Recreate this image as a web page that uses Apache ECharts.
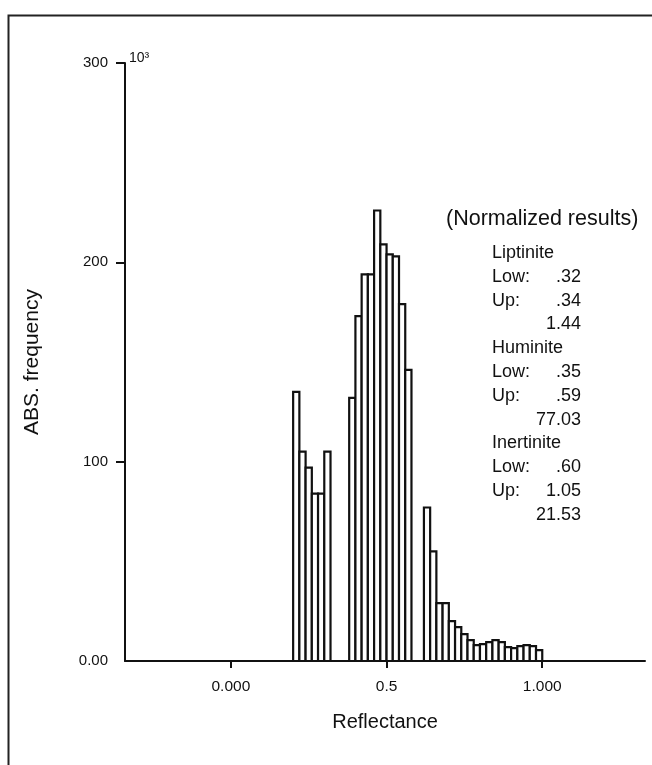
<!DOCTYPE html>
<html>
<head>
<meta charset="utf-8">
<script src="https://cdn.jsdelivr.net/npm/echarts@6/dist/echarts.min.js"></script>
<style>
  html, body { margin: 0; padding: 0; background: #fff; }
  #main { width: 652px; height: 765px; }
</style>
</head>
<body>
<div id="main"></div>
<script>
// reflectance histogram, counts in 10^3
var binWidth = 0.02;
var binLeft = [0.20, 0.22, 0.24, 0.26, 0.28, 0.30,
    0.38, 0.40, 0.42, 0.44, 0.46, 0.48, 0.50, 0.52, 0.54, 0.56,
    0.62, 0.64, 0.66, 0.68, 0.70, 0.72, 0.74, 0.76, 0.78, 0.80,
    0.82, 0.84, 0.86, 0.88, 0.90, 0.92, 0.94, 0.96, 0.98];
var counts = [135, 105, 97, 84, 84, 105,
    132, 173, 194, 194, 226, 209, 204, 203, 179, 146,
    77, 55, 29, 29, 20, 17, 13.5, 10.5, 8, 8.5,
    9.5, 10.5, 9.5, 7, 6.5, 7.5, 8, 7.5, 5.5];

var xTickValues = [0, 0.5, 1];
var xTickLabels = ['0.000', '0.5', '1.000'];
var yTickValues = [0, 100, 200, 300];
var yTickLabels = ['0.00', '100', '200', '300'];

var macerals = ['Liptinite', 'Huminite', 'Inertinite'];
var lowLimits = ['.32', '.35', '.60'];
var upLimits = ['.34', '.59', '1.05'];
var percents = ['1.44', '77.03', '21.53'];

var font = '"Liberation Sans", Arial, sans-serif';
var ink = '#111';

var data = [];
for (var i = 0; i < binLeft.length; i++) {
    data.push([binLeft[i], counts[i]]);
}

// frame, unit and the text block on the right
var graphics = [
    {type: 'rect', left: 6, top: 13, shape: {width: 700, height: 800},
        style: {fill: 'none', stroke: '#222', lineWidth: 2}, silent: true},
    {type: 'text', left: 129, top: 51,
        style: {text: '10³', font: '14px ' + font, fill: ink}},
    {type: 'text', x: 446, y: 219,
        style: {text: '(Normalized results)', font: '21.5px ' + font, fill: ink, verticalAlign: 'middle'}}
];
var rowY = 253;
var rowGap = 23.8;
for (var k = 0; k < macerals.length; k++) {
    var rows = [
        [macerals[k], ''],
        ['Low:', lowLimits[k]],
        ['Up:', upLimits[k]],
        ['', percents[k]]
    ];
    for (var r = 0; r < rows.length; r++) {
        if (rows[r][0]) {
            graphics.push({type: 'text', x: 492, y: rowY,
                style: {text: rows[r][0], font: '18px ' + font, fill: ink, verticalAlign: 'middle'}});
        }
        if (rows[r][1]) {
            graphics.push({type: 'text', x: 581, y: rowY,
                style: {text: rows[r][1], font: '18px ' + font, fill: ink, align: 'right', verticalAlign: 'middle'}});
        }
        rowY += rowGap;
    }
}

var myChart = echarts.init(document.getElementById('main'));
var option = {
    backgroundColor: '#fff',
    animation: false,
    grid: {left: 125, right: 7, top: 63, bottom: 104},
    xAxis: {
        type: 'value',
        min: -0.34,
        max: 1.33,
        name: 'Reflectance',
        nameLocation: 'middle',
        nameGap: 51,
        nameTextStyle: {fontFamily: 'Liberation Sans', fontSize: 20, color: ink},
        axisLine: {show: true, onZero: false, lineStyle: {color: ink, width: 2}},
        axisTick: {show: true, customValues: xTickValues, length: 7, lineStyle: {color: ink, width: 2}},
        axisLabel: {
            customValues: xTickValues,
            margin: 18,
            fontFamily: 'Liberation Sans', fontSize: 15.5, color: ink,
            formatter: function (v) {
                var idx = xTickValues.indexOf(v);
                return idx >= 0 ? xTickLabels[idx] : '';
            }
        },
        splitLine: {show: false}
    },
    yAxis: {
        type: 'value',
        min: 0,
        max: 300,
        name: 'ABS. frequency',
        nameLocation: 'middle',
        nameGap: 82,
        nameRotate: 90,
        nameTextStyle: {fontFamily: 'Liberation Sans', fontSize: 21, color: ink},
        axisLine: {show: true, onZero: false, lineStyle: {color: ink, width: 2}},
        axisTick: {show: true, customValues: [100, 200, 300], length: 9, lineStyle: {color: ink, width: 2}},
        axisLabel: {
            customValues: yTickValues,
            margin: 17,
            fontFamily: 'Liberation Sans', fontSize: 15, color: ink,
            formatter: function (v) {
                var idx = yTickValues.indexOf(v);
                return idx >= 0 ? yTickLabels[idx] : '';
            }
        },
        splitLine: {show: false}
    },
    series: [{
        type: 'custom',
        data: data,
        renderItem: function (params, api) {
            var p0 = api.coord([api.value(0), 0]);
            var p1 = api.coord([api.value(0) + binWidth, api.value(1)]);
            return {
                type: 'rect',
                shape: {x: p0[0], y: p1[1], width: p1[0] - p0[0], height: p0[1] - p1[1]},
                style: {fill: '#fff', stroke: ink, lineWidth: 2.2}
            };
        }
    }],
    graphic: graphics
};
myChart.setOption(option);
</script>
</body>
</html>
